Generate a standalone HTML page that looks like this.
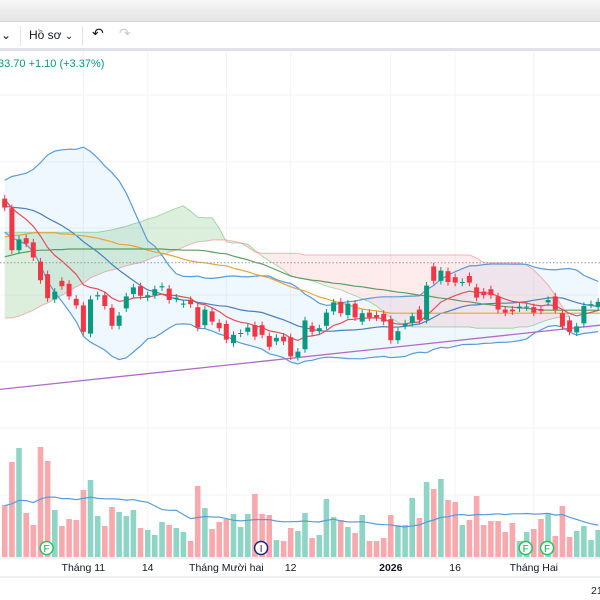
<!DOCTYPE html>
<html><head><meta charset="utf-8">
<style>
html,body{margin:0;padding:0;background:#fff;width:600px;height:600px;overflow:hidden;font-family:"Liberation Sans","DejaVu Sans",sans-serif;}
#wrap{position:relative;width:600px;height:600px;}
.topstrip{position:absolute;left:0;top:0;width:600px;height:21px;background:linear-gradient(#f7f7f7,#e4e4e4);border-bottom:1px solid #d6d6d6;}
.toolbar{position:absolute;left:0;top:22px;width:600px;height:26px;background:#fff;border-bottom:3px solid #e0e3eb;}
.tb{position:absolute;top:6px;font-size:12px;color:#131722;}
.sep{position:absolute;top:4px;width:1px;height:20px;background:#e0e3eb;}
svg text{font-family:"Liberation Sans","DejaVu Sans",sans-serif;}
</style></head><body>
<div id="wrap">
<div class="topstrip"></div>
<div class="toolbar">
  <div class="tb" style="left:1px;">⌄</div>
  <div class="sep" style="left:20px;"></div>
  <div class="tb" style="left:29px;">Hồ sơ <span style="font-size:10px;">⌄</span></div>
  <div class="sep" style="left:82px;"></div>
  <div class="tb" style="left:92px;font-size:14px;top:3px;">↶</div>
  <div class="tb" style="left:119px;font-size:14px;top:3px;color:#c8cad0;">↷</div>
</div>
<svg id="chart" width="600" height="600" style="position:absolute;left:0;top:0;"></svg>
</div>
<script>
// ---- data ----
const histCloses = [38.5,39.2,40.1,39.6,40.8,41.5,42.0,41.2,42.6,43.5,44.0,43.1,44.8,45.5,46.2,45.0,44.1,45.6,46.5,44.6];
const histVolumes = [45,60,38,52,70,41,55,48,62,36,58,44,50,66,40,53,47,61,39,57];
const opens = [44.4,42.8,35.8,37.8,37.1,33.9,31.8,27.6,30.7,30.2,27.7,26.6,21.9,28.1,28.3,26.2,23.2,26.1,28.5,29.8,27.9,28.3,29.6,29.4,27.7,26.8,27.5,26.3,23.3,25.6,23.7,23.5,20.3,21.9,22.2,23.3,23.3,21.5,20.6,21.4,21.3,18.0,
19.3,23.2,22.3,23.2,25.6,27.2,25.0,26.9,23.9,25.4,25.0,25.2,24.3,20.8,23.2,23.7,25.9,24.2,33.1,30.7,32.3,31.3,30.4,31.5,29.6,28.9,29.3,28.1,25.9,25.9,26.1,26.3,26.3,26.0,27.1,28.1,25.3,24.1,22.1,23.6,26.7,26.3];
const closes = [42.9,35.8,37.6,36.9,34.6,30.8,27.8,28.9,29.8,28.1,26.6,22.2,27.6,28.3,26.5,23.2,24.9,28.1,29.6,28.2,28.3,29.3,29.8,27.5,27.9,26.9,26.8,22.9,25.9,23.9,22.8,20.9,21.7,22.0,22.9,21.4,21.7,19.7,21.2,20.6,18.1,18.9,
24.1,22.2,22.8,25.4,27.1,25.3,26.9,24.6,25.3,24.6,24.6,23.9,20.8,22.3,23.6,24.8,24.2,29.9,30.7,32.4,30.5,30.4,30.5,30.4,27.9,28.3,28.3,25.9,25.4,25.6,26.4,26.4,25.4,25.7,27.5,25.9,23.1,22.2,23.1,26.5,26.8,27.2];
const volumes = [52,95,109,44,32,110,96,47,31,38,37,67,77,41,31,50,45,41,47,29,27,22,35,32,29,25,16,71,49,28,35,38,43,30,43,63,43,42,17,16,29,26,44,19,22,58,40,37,30,24,42,16,16,19,42,32,32,59,39,75,68,78,57,55,32,37,61,32,36,36,25,34,16,25,28,38,44,21,51,20,26,31,17,27];
const spanA = [38.8,38.8,38.8,38.8,38.8,38.8,38.8,38.8,38.8,38.8,38.8,38.8,38.8,38.8,39.0,39.2,39.5,39.8,40.2,40.5,41.0,41.3,41.8,42.3,42.8,43.2,42.3,41.3,41.2,41.2,39.5,37.2,37.0,37.0,36.8,35.8,34.8,34.0,33.3,32.5,31.5,31.2,31.0,30.7,30.3,29.8,29.5,29.2,28.7,28.2,27.7,27.2,26.5,25.5,24.5,23.8,23.2,23.0,23.0,23.0,23.0,23.0,23.0,23.0,23.0,23.0,22.8,22.8,22.8,22.8,22.8,22.8,23.0,23.0,23.3,23.8,24.2,24.5,24.7,24.7];
const spanB = [24.5,24.5,24.8,25.3,25.8,26.5,27.0,27.7,28.3,29.0,29.7,30.3,31.2,31.7,32.2,32.5,32.8,33.2,33.5,33.7,34.2,34.7,35.0,35.5,35.8,36.3,36.8,37.2,37.3,37.5,37.5,37.5,37.3,37.0,36.3,35.5,35.3,35.3,35.3,35.3,35.3,35.3,35.0,35.0,35.0,35.0,35.0,35.0,35.0,35.0,35.0,35.0,35.0,35.0,35.0,35.0,35.0,35.0,35.0,35.0,35.0,35.0,35.0,35.0,35.0,35.0,34.5,33.7,33.7,33.7,33.7,33.7,33.7,33.3,32.5,31.3,30.0,28.3,26.3,24.7];
const maOrange = [38.0,38.2,38.3,38.5,38.7,38.7,38.7,38.7,38.5,38.5,38.3,38.2,38.0,37.8,37.5,37.2,36.8,36.7,36.5,36.2,35.8,35.5,35.3,35.0,34.7,34.3,34.0,33.8,33.7,33.5,33.3,33.2,32.8,32.5,32.2,31.8,31.5,31.2,30.7,30.2,29.7,29.3,29.0,28.5,28.0,27.7,27.3,27.0,26.7,26.3,26.0,25.8,25.7,25.5,25.3,25.3,25.3,25.3,25.3,25.3,25.3,25.3,25.3,25.3,25.3,25.3,25.3,25.3,25.3,25.3,25.3,25.3,25.3,25.3,25.3,25.3,25.3,25.3,25.3,25.3,25.3,25.3,25.3,25.3,25.3];
const maGreen = [34.7,35.0,35.3,35.5,35.7,35.8,35.8,35.9,35.9,36.0,36.0,36.0,36.0,36.0,36.0,36.0,36.0,36.0,36.0,36.0,36.0,36.0,36.0,35.9,35.9,35.8,35.8,35.8,35.7,35.5,35.3,35.2,34.8,34.5,34.2,33.8,33.5,33.0,32.5,32.0,31.5,31.2,31.0,30.8,30.7,30.5,30.3,30.2,30.0,29.8,29.7,29.5,29.3,29.2,29.0,28.8,28.7,28.5,28.3,28.2,28.0,27.8,27.7,27.5,27.3,27.2,27.0,26.8,26.7,26.5,26.4,26.3,26.2,26.1,26.0,25.8,25.8,25.8,25.8,25.8,25.8,25.8,25.8,25.8,25.8];
const trendIdx = [0,84];
const trendVal = [12.6,23.4];
const lastPrice = 33.7;
const timeLabels = ["Tháng 11","14","Tháng Mười hai","12","2026","16","Tháng Hai"];
const timeLabelIdx = [11,20,31,40,54,63,74];
const eventLabels = ["F","I","F","F"];
const eventIdx = [6,36,73,76];

// ---- scales ----
const svg = document.getElementById('chart');
const NS = 'http://www.w3.org/2000/svg';
function xS(i){ return 4.7 + 7.15*i; }
function yS(p){ return 465 - 6*p; }
function vS(v){ return 557 - v; }
function mk(tag, attrs, parent){
  const e = document.createElementNS(NS, tag);
  for (const k in attrs) e.setAttribute(k, attrs[k]);
  (parent||svg).appendChild(e); return e;
}
function pathFrom(arr, xf, yf){
  let d=''; arr.forEach((v,i)=>{ if(v==null) return; d += (d?'L':'M') + xf(i).toFixed(1)+','+yf(v).toFixed(1); }); return d;
}

// grid
const grid = mk('g',{});


[95,162,228,295,362,428,495].forEach(y=>{ mk('line',{x1:0,x2:600,y1:y,y2:y,stroke:'#f0f3fa','stroke-width':1},grid); });
timeLabelIdx.forEach(i=>{ mk('line',{x1:xS(i),x2:xS(i),y1:51,y2:558,stroke:'#f0f3fa','stroke-width':1},grid); });

// indicators from data
const allC = histCloses.concat(closes);
const H = histCloses.length;
const bbU=[], bbL=[], bbM=[];
for (let i=0;i<closes.length;i++){
  const k=i+H; const w=allC.slice(Math.max(0,k-19),k+1);
  const m=w.reduce((a,b)=>a+b,0)/w.length;
  const sd=Math.sqrt(w.reduce((a,b)=>a+(b-m)*(b-m),0)/w.length);
  bbM.push(m); bbU.push(m+2*sd); bbL.push(m-2*sd);
}
const ema=[]; let e=allC[0]; const al=2/(10+1);
for (let k=0;k<allC.length;k++){ e = k? al*allC[k]+(1-al)*e : allC[0]; if(k>=H) ema.push(e); }
const allV = histVolumes.concat(volumes); const vma=[];
for (let i=0;i<volumes.length;i++){ const k=i+histVolumes.length; const w=allV.slice(k-19,k+1); vma.push(w.reduce((a,b)=>a+b,0)/w.length); }

// BB fill
let bd = pathFrom(bbU,xS,yS);
for (let i=bbL.length-1;i>=0;i--) bd += 'L'+xS(i).toFixed(1)+','+yS(bbL[i]).toFixed(1);
const bbFill = mk('path',{d:bd+'Z',fill:'rgba(33,150,243,0.07)'});



// Ichimoku cloud
const cloud = mk('g',{});


for (let i=0;i<spanA.length-1;i++){
  const up = (spanA[i]+spanA[i+1]) >= (spanB[i]+spanB[i+1]);
  const pts = [[xS(i),yS(spanA[i])],[xS(i+1),yS(spanA[i+1])],[xS(i+1),yS(spanB[i+1])],[xS(i),yS(spanB[i])]].map(p=>p.join(',')).join(' ');
  mk('polygon',{points:pts,fill: up?'rgba(76,175,80,0.2)':'rgba(242,54,69,0.1)'},cloud);
}
mk('path',{d:pathFrom(spanA,xS,yS),fill:'none',stroke:'rgba(76,175,80,0.45)','stroke-width':1},cloud);
mk('path',{d:pathFrom(spanB,xS,yS),fill:'none',stroke:'rgba(242,54,69,0.35)','stroke-width':1},cloud);

// volume bars
const vg = mk('g',{});


volumes.forEach((v,i)=>{
  const up = closes[i]>=opens[i];
  const r = mk('rect',{x:(xS(i)-2.8).toFixed(1),y:vS(v),width:5.6,height:v,fill: up?'#8fd5c6':'#f7a9ae'},vg);
  
  
});
const vmaLine = mk('path',{d:pathFrom(vma,xS,vS),fill:'none',stroke:'#5b9bd5','stroke-width':1.2});



// lines
function line(arr, col, name, w){
  const p = mk('path',{d:pathFrom(arr,xS,yS),fill:'none',stroke:col,'stroke-width':w||1.2});
  
  
}
line(bbU,'#5b9bd5','bollinger-upper');
line(bbL,'#5b9bd5','bollinger-lower');
line(bbM,'#4a7fc0','bollinger-basis');
line(maOrange,'#e8a33c','ma-orange');
line(maGreen,'#5e9c62','ma-green');
line(ema,'#e0505b','ema-red');
const tr = mk('line',{x1:xS(trendIdx[0]-0.66),y1:yS(trendVal[0]),x2:xS(trendIdx[1]),y2:yS(trendVal[1]),stroke:'#b06cc8','stroke-width':1.3});



// last price dotted line
const lp = mk('line',{x1:0,x2:600,y1:yS(lastPrice),y2:yS(lastPrice),stroke:'#9598a1','stroke-width':1,'stroke-dasharray':'1.5,2'});



// candles
const cg = mk('g',{});


opens.forEach((o,i)=>{
  const c = closes[i]; const up = c>=o; const col = up?'#089981':'#f23645';
  const hi = Math.max(o,c)+0.6, lo = Math.min(o,c)-0.6;
  mk('line',{x1:xS(i),x2:xS(i),y1:yS(hi),y2:yS(lo),stroke:col,'stroke-width':1},cg);
  const top = yS(Math.max(o,c)); const h = Math.max(1, yS(Math.min(o,c))-top);
  const r = mk('rect',{x:(xS(i)-2.5).toFixed(1),y:top.toFixed(1),width:5,height:h.toFixed(1),fill:col},cg);
  
  
});

// event markers
eventIdx.forEach((i,k)=>{
  const g = mk('g',{});
  
  
  const isI = eventLabels[k]==='I';
  mk('circle',{cx:xS(i)-1,cy:548,r:6.5,fill:'#fff',stroke: isI?'#1a237e':'#22c55e','stroke-width':1.5},g);
  const t = mk('text',{x:xS(i)-1,y:552,'font-size':10,'text-anchor':'middle',fill: isI?'#1a237e':'#16a34a'},g);
  t.textContent = eventLabels[k];
});

// time axis
mk('line',{x1:0,x2:600,y1:558,y2:558,stroke:'#e0e3eb','stroke-width':1});
mk('line',{x1:0,x2:600,y1:577,y2:577,stroke:'#e0e3eb','stroke-width':1});
timeLabels.forEach((s,k)=>{
  const t = mk('text',{x:xS(timeLabelIdx[k]),y:571,'font-size':10.5,'text-anchor':'middle',fill:'#131722','font-weight': s==='2026'?'bold':'normal'});
  
  
  t.textContent = s;
});
const tz = mk('text',{x:591,y:594,'font-size':10.5,fill:'#131722'});


tz.textContent='21';

// legend
const lg = mk('text',{x:-2,y:67,'font-size':11,fill:'#089981'});


lg.textContent='33.70  +1.10 (+3.37%)';
</script>
</body></html>
